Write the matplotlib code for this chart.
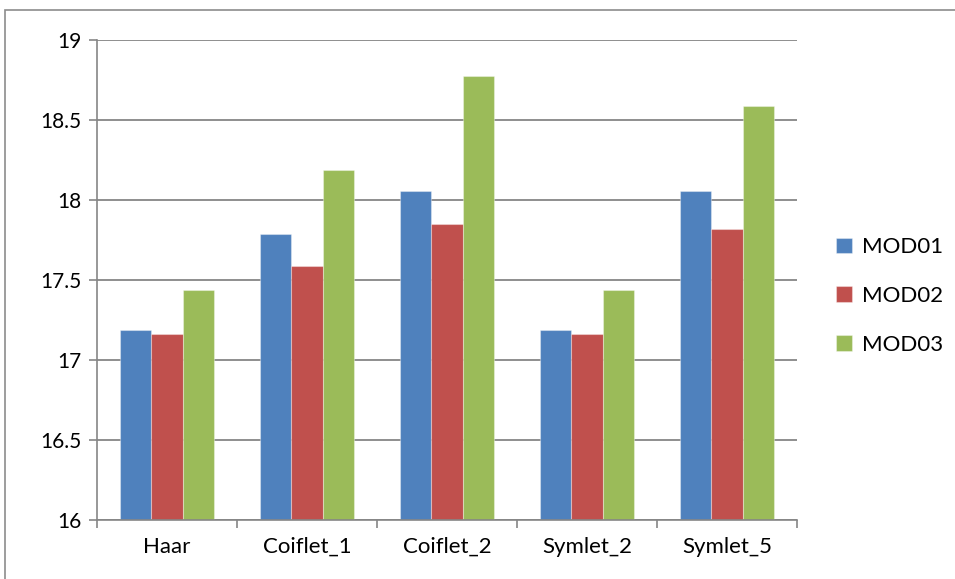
import matplotlib.pyplot as plt
import numpy as np
from matplotlib.patches import Rectangle

# data
categories = ["Haar", "Coiflet_1", "Coiflet_2", "Symlet_2", "Symlet_5"]
mod01 = [17.19, 17.79, 18.055, 17.19, 18.055]
mod02 = [17.165, 17.59, 17.85, 17.165, 17.82]
mod03 = [17.435, 18.19, 18.775, 17.435, 18.585]
series_names = ["MOD01", "MOD02", "MOD03"]
colors = ["#4F81BD", "#C0504D", "#9BBB59"]
yticks = [16, 16.5, 17, 17.5, 18, 18.5, 19]
ytick_labels = ["16", "16.5", "17", "17.5", "18", "18.5", "19"]

plt.rcParams['font.family'] = ['Lato', 'DejaVu Sans']

fig = plt.figure(figsize=(9.55, 5.79), dpi=100)
ax = fig.add_axes([97/955, 1-520/579, 700/955, 480/579])

# outer chart border (cut off on the right and bottom)
fig.patches.append(Rectangle((5/955, -0.1), 1.2, 1-10/579+0.1, transform=fig.transFigure,
                             fill=False, edgecolor="#8c8c8c", linewidth=1.2))

x = np.arange(len(categories))
w = 1/4.5
for i, (vals, name, c) in enumerate(zip([mod01, mod02, mod03], series_names, colors)):
    ax.bar(x + (i-1)*w, np.array(vals) - 16, bottom=16, width=w, color=c,
           edgecolor=(1, 1, 1, 0.35), linewidth=0.8, label=name, zorder=3)

ax.set_xlim(-0.5, len(categories)-0.5)
ax.set_ylim(16, 19)
ax.set_yticks(yticks)
ax.set_yticklabels(ytick_labels, fontsize=15)
ax.set_xticks(x)
ax.set_xticklabels(categories, fontsize=16)
ax.set_xticks(np.arange(len(categories)+1) - 0.5, minor=True)
ax.tick_params(axis='x', which='major', length=0, pad=12)
ax.tick_params(axis='x', which='minor', length=6, color="#868686", width=1.2)
ax.tick_params(axis='y', length=6, color="#868686", width=1.2, pad=5)

ax.grid(axis='y', color="#868686", linewidth=1.3, zorder=0)
ax.set_axisbelow(True)
for s in ["top", "right"]:
    ax.spines[s].set_visible(False)
for s in ["left", "bottom"]:
    ax.spines[s].set_color("#868686")
    ax.spines[s].set_linewidth(1.2)
    ax.spines[s].set_zorder(4)

fig.legend(loc="center left", bbox_to_anchor=(816/955, 1-296/579), frameon=False,
           fontsize=16, handlelength=0.7, handleheight=0.7, labelspacing=1.3,
           handletextpad=0.45)

fig.savefig("out.png", dpi=100)
